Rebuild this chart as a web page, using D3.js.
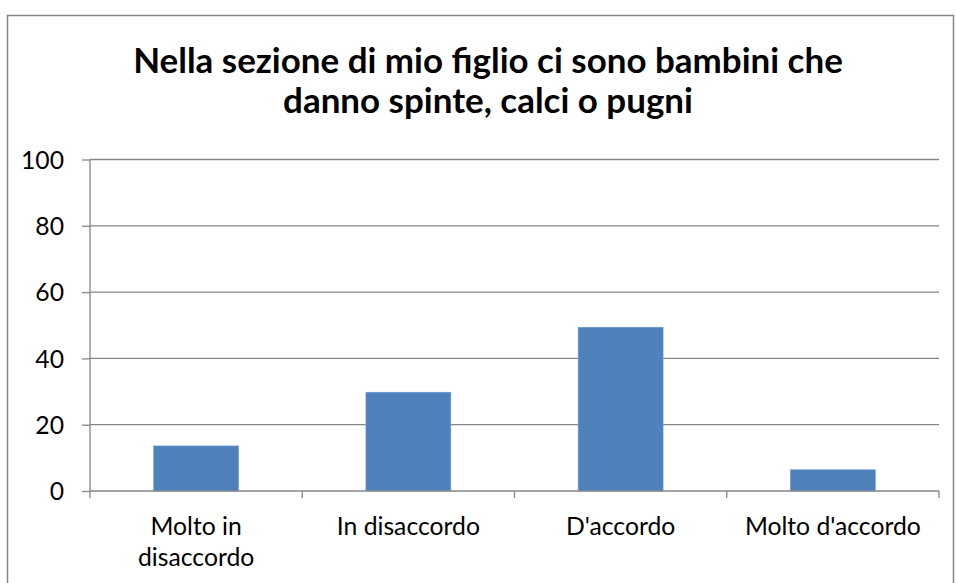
<!DOCTYPE html>
<html><head><meta charset="utf-8">
<script src="https://cdn.jsdelivr.net/npm/d3@7"></script>
<style>body{margin:0;background:#fff}svg{display:block}</style>
</head><body>
<svg id="c" width="956" height="583"></svg>
<script>
const titleLines = ["Nella sezione di mio figlio ci sono bambini che", "danno spinte, calci o pugni"];
const categories = ["Molto in disaccordo", "In disaccordo", "D'accordo", "Molto d'accordo"];
const values = [13.6, 29.8, 49.4, 6.4];
const yTicks = [0, 20, 40, 60, 80, 100];

const W = 956, H = 583;
const svg = d3.select("#c");
const FONT = "Lato, 'Liberation Sans', sans-serif";
const axisColor = "#868686";

// chart border
svg.append("rect").attr("x", 7.5).attr("y", 15.5).attr("width", 946).attr("height", 600)
  .attr("fill", "#fff").attr("stroke", axisColor).attr("stroke-width", 1.5);

const m = {left: 90, right: 939, top: 159.5, bottom: 491};
const x = d3.scaleBand().domain(categories).range([m.left, m.right]).paddingInner(0.6).paddingOuter(0.3);
const y = d3.scaleLinear().domain([0, 100]).range([m.bottom, m.top]);

// title
const tg = svg.append("g");
const tBase = [73, 113];
titleLines.forEach((t, i) => {
  tg.append("text").attr("x", 488).attr("y", tBase[i]).attr("text-anchor", "middle")
    .attr("font-family", FONT).attr("font-weight", "bold").attr("font-size", 30).attr("fill", "#000").text(t);
});
const t0 = tg.select("text").node().getComputedTextLength();
const tSize = 30 * 710 / t0;
tg.selectAll("text").attr("font-size", tSize);

// gridlines
svg.append("g").selectAll("line").data(yTicks.filter(d => d > 0)).join("line")
  .attr("x1", m.left).attr("x2", m.right).attr("y1", d => y(d)).attr("y2", d => y(d))
  .attr("stroke", axisColor).attr("stroke-width", 1.3);

// bars
svg.append("g").selectAll("rect").data(values).join("rect")
  .attr("x", (d, i) => x(categories[i])).attr("width", x.bandwidth())
  .attr("y", d => y(d)).attr("height", d => y(0) - y(d))
  .attr("fill", "#4F81BD").attr("stroke", "#6f9ad0").attr("stroke-width", 0.6);

// measure label font size
const probe = svg.append("text").attr("font-family", FONT).attr("font-size", 20).text("Molto d'accordo");
const lSize = 20 * 176 / probe.node().getComputedTextLength();
probe.remove();

// y axis
const yAxis = d3.axisLeft(y).tickValues(yTicks).tickSize(8).tickPadding(10);
const ya = svg.append("g").attr("transform", `translate(${m.left},0)`).call(yAxis);
ya.select(".domain").attr("stroke", axisColor).attr("stroke-width", 1.3).attr("d", `M0,${m.top}V${m.bottom}`);
ya.selectAll(".tick line").attr("stroke", axisColor).attr("stroke-width", 1.3);
ya.selectAll(".tick text").attr("font-family", FONT).attr("font-size", lSize).attr("fill", "#000").attr("dy", "0.35em").attr("x", -26);

// x axis
const bounds = [m.left].concat(categories.map(c => x(c) - x.step() * x.paddingInner() / 2 + x.step()));
const xa = svg.append("g");
xa.append("line").attr("x1", m.left).attr("x2", m.right).attr("y1", y(0)).attr("y2", y(0))
  .attr("stroke", axisColor).attr("stroke-width", 1.3);
xa.selectAll("line.t").data(bounds).join("line").attr("class", "t")
  .attr("x1", d => d).attr("x2", d => d).attr("y1", y(0)).attr("y2", y(0) + 7)
  .attr("stroke", axisColor).attr("stroke-width", 1.3);

// category labels with wrapping
const maxW = 185;
categories.forEach(c => {
  const cx = x(c) + x.bandwidth() / 2;
  const t = xa.append("text").attr("text-anchor", "middle").attr("font-family", FONT)
    .attr("font-size", lSize).attr("fill", "#000");
  const words = c.split(" ");
  let lines = [], cur = [];
  words.forEach(w => {
    const test = cur.concat([w]).join(" ");
    t.text(test);
    if (t.node().getComputedTextLength() > maxW && cur.length) { lines.push(cur.join(" ")); cur = [w]; }
    else cur.push(w);
  });
  lines.push(cur.join(" "));
  t.text(null);
  lines.forEach((l, i) => t.append("tspan").attr("x", cx).attr("y", 535 + i * 31).text(l));
});
</script>
</body></html>
